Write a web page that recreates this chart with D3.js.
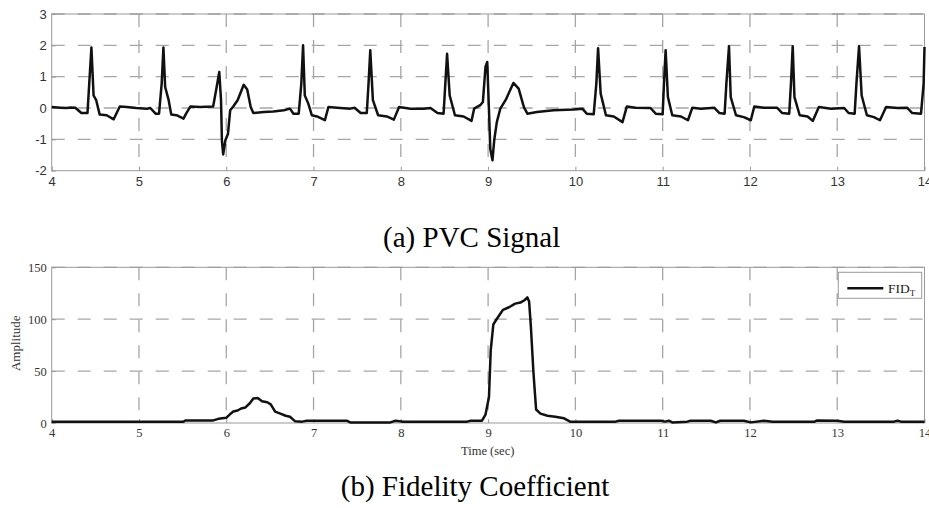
<!DOCTYPE html>
<html><head><meta charset="utf-8">
<script src="https://cdn.jsdelivr.net/npm/d3@7"></script>
<style>body{margin:0;background:#fff}svg{display:block}</style>
</head><body>
<svg id="c" width="929" height="508"></svg>
<script>
// ---------- data ----------
const ecgTime = [4.00,4.10,4.17,4.22,4.27,4.34,4.41,4.43,4.455,4.48,4.51,4.55,4.63,4.71,4.74,4.78,4.86,4.97,5.09,5.13,5.19,5.23,5.26,5.28,5.30,5.34,5.37,5.43,5.51,5.54,5.59,5.70,5.85,5.89,5.92,5.94,5.95,5.965,5.99,6.02,6.045,6.08,6.13,6.20,6.24,6.28,6.31,6.43,6.54,6.66,6.73,6.77,6.83,6.86,6.88,6.90,6.94,6.98,7.04,7.13,7.17,7.27,7.42,7.47,7.54,7.61,7.63,7.65,7.68,7.74,7.84,7.92,7.98,8.11,8.26,8.34,8.42,8.49,8.51,8.53,8.56,8.62,8.72,8.81,8.84,8.91,8.94,8.97,8.99,9.01,9.025,9.05,9.07,9.10,9.14,9.20,9.29,9.35,9.41,9.45,9.56,9.75,9.98,10.08,10.13,10.21,10.24,10.26,10.29,10.35,10.44,10.54,10.59,10.69,10.86,10.92,11.00,11.015,11.034,11.06,11.11,11.21,11.29,11.34,11.44,11.59,11.65,11.71,11.73,11.76,11.78,11.84,11.93,12.01,12.05,12.16,12.31,12.37,12.45,12.47,12.49,12.51,12.57,12.66,12.72,12.79,12.93,13.08,13.13,13.20,13.22,13.25,13.28,13.34,13.42,13.49,13.56,13.69,13.80,13.86,13.96,13.99,14.00];
const ecgValue = [0.03,0.01,0.00,0.02,0.01,-0.16,-0.16,0.78,1.93,0.40,0.25,-0.21,-0.23,-0.36,-0.18,0.05,0.03,0.00,-0.02,0.00,-0.18,-0.18,0.78,1.93,0.67,0.25,-0.21,-0.23,-0.34,-0.18,0.05,0.03,0.05,0.67,1.15,0.25,-1.03,-1.48,-1.03,-0.82,-0.07,0.05,0.25,0.74,0.59,0.03,-0.16,-0.13,-0.11,-0.07,-0.02,-0.18,-0.18,0.78,2.00,0.40,0.14,-0.23,-0.27,-0.39,0.03,0.01,-0.02,0.01,-0.16,-0.16,0.78,1.84,0.25,-0.23,-0.27,-0.37,0.03,-0.02,-0.02,0.00,-0.16,-0.18,0.78,1.73,0.40,-0.23,-0.27,-0.41,-0.02,0.09,0.19,1.31,1.47,-0.07,-1.30,-1.67,-1.03,-0.45,-0.02,0.25,0.80,0.62,0.03,-0.18,-0.13,-0.07,-0.05,-0.02,-0.18,-0.20,0.78,1.91,0.46,-0.23,-0.27,-0.45,0.05,0.01,0.00,-0.18,-0.20,0.78,1.84,0.35,-0.23,-0.27,-0.39,0.01,-0.02,0.01,-0.16,-0.18,0.78,1.97,0.35,-0.23,-0.29,-0.39,0.05,0.01,0.01,-0.16,-0.18,0.78,1.97,0.35,-0.23,-0.27,-0.41,0.03,-0.02,0.00,-0.16,-0.18,0.78,1.97,0.40,-0.23,-0.29,-0.39,0.03,0.00,0.01,-0.16,-0.18,0.78,1.95];
const fidTime = [4.00,5.51,5.53,5.85,5.91,6.00,6.05,6.08,6.13,6.17,6.22,6.27,6.31,6.36,6.41,6.47,6.51,6.56,6.62,6.68,6.73,6.79,6.87,6.92,7.38,7.42,7.88,7.94,8.03,8.76,8.80,8.93,8.97,9.01,9.03,9.06,9.09,9.13,9.17,9.24,9.31,9.37,9.42,9.45,9.47,9.49,9.52,9.55,9.60,9.68,9.77,9.87,9.94,10.46,10.50,10.98,11.03,11.07,11.11,11.28,11.32,11.55,11.61,11.66,11.93,12.01,12.16,12.26,12.74,12.77,13.00,13.08,13.65,13.69,13.73,14.00];
const fidValue = [1.3,1.3,2.5,2.5,4,5,9,11,12,14,15,19,23.5,24,21,20,18,11,9,7,6,1.6,1.3,2.2,2.2,0.6,0.6,2.2,1.3,1.3,2.2,2.2,8,25,70,95,99,104,109,111.5,115,116,118.5,121,117,93,48,13,9,7,6,4.5,1.3,1.3,2.2,2.2,1.3,2.2,0.6,1.3,2.2,2.2,0.6,2.2,2.2,0.6,2.2,1.3,1.3,2.5,2.2,1.3,1.3,2.2,1.3,1.3];
const xTicks = [4,5,6,7,8,9,10,11,12,13,14];
const topYTicks = [-2,-1,0,1,2,3];
const botYTicks = [0,50,100,150];
const captionA = "(a) PVC Signal";
const captionB = "(b) Fidelity Coefficient";
const xLabel = "Time (sec)";
const yLabel = "Amplitude";
const legendLabel = "FID";
const legendSub = "T";

// ---------- drawing ----------
const svg = d3.select("#c");
const L = 51.7, R = 924.5;
const gridColor = "#a6a6a6", boxColor = "#9a9a9a";
const fmt = d => String(d);

function panel(cfg){
  const x = d3.scaleLinear().domain([4,14]).range([L,R]);
  const y = d3.scaleLinear().domain(cfg.yDomain).range([cfg.bottom, cfg.top]);
  const g = svg.append("g");
  g.selectAll(".vg").data(xTicks.slice(1,-1)).join("line")
    .attr("x1", d=>x(d)).attr("x2", d=>x(d)).attr("y1", cfg.top).attr("y2", cfg.bottom)
    .attr("stroke", gridColor).attr("stroke-width", 1.3).attr("stroke-dasharray", "13,13");
  g.selectAll(".hg").data(cfg.yTicks.slice(1,-1)).join("line")
    .attr("x1", L).attr("x2", R).attr("y1", d=>y(d)).attr("y2", d=>y(d))
    .attr("stroke", gridColor).attr("stroke-width", 1.3).attr("stroke-dasharray", "13,13");
  g.append("line").attr("x1", L).attr("x2", R).attr("y1", cfg.top).attr("y2", cfg.top)
    .attr("stroke", gridColor).attr("stroke-width", 1.3).attr("stroke-dasharray", "13,13");
  g.append("rect").attr("x", L).attr("y", cfg.top).attr("width", R-L).attr("height", cfg.bottom-cfg.top)
    .attr("fill", "none").attr("stroke", boxColor).attr("stroke-width", 1);
  const ax = g.append("g").attr("transform", `translate(0,${cfg.bottom})`)
    .call(d3.axisBottom(x).tickValues(xTicks).tickFormat(fmt).tickSizeInner(-4).tickSizeOuter(0).tickPadding(8));
  const ay = g.append("g").attr("transform", `translate(${L},0)`)
    .call(d3.axisLeft(y).tickValues(cfg.yTicks).tickFormat(fmt).tickSizeInner(-4).tickSizeOuter(0).tickPadding(5));
  [ax, ay].forEach(a=>{
    a.select(".domain").remove();
    a.selectAll(".tick line").attr("stroke", boxColor);
    a.selectAll("text").attr("fill", cfg.textColor).attr("font-family", cfg.font).attr("font-size", cfg.fontSize);
  });
  ax.selectAll("text").attr("dy", cfg.xdy);
  const line = d3.line().x(d=>x(d[0])).y(d=>y(d[1]));
  g.append("path").datum(cfg.t.map((t,i)=>[t, cfg.v[i]]))
    .attr("d", line).attr("fill", "none").attr("stroke", "#111").attr("stroke-width", 2.5)
    .attr("stroke-linejoin", "round");
  return {x, y, g};
}

panel({top:14, bottom:170.7, yDomain:[-2,3], yTicks:topYTicks, t:ecgTime, v:ecgValue,
  font:"'Liberation Sans', Arial, sans-serif", fontSize:13, textColor:"#333", xdy:"0.55em"});
panel({top:267.3, bottom:423, yDomain:[0,150], yTicks:botYTicks, t:fidTime, v:fidValue,
  font:"'Liberation Serif', 'Times New Roman', serif", fontSize:12.5, textColor:"#333", xdy:"0.5em"});

svg.append("text").attr("x", 487.7).attr("y", 454.5).attr("text-anchor", "middle")
  .attr("font-family", "'Liberation Serif', serif").attr("font-size", 12.5).attr("fill", "#333").text(xLabel);
svg.append("text").attr("transform", "translate(20,343.3) rotate(-90)").attr("text-anchor", "middle")
  .attr("font-family", "'Liberation Serif', serif").attr("font-size", 13).attr("fill", "#333").text(yLabel);

const lg = svg.append("g");
lg.append("rect").attr("x", 838.3).attr("y", 272.3).attr("width", 83.4).attr("height", 26)
  .attr("fill", "#fff").attr("stroke", "#999").attr("stroke-width", 1);
lg.append("line").attr("x1", 847.3).attr("x2", 883.3).attr("y1", 288.3).attr("y2", 288.3)
  .attr("stroke", "#111").attr("stroke-width", 2.5);
const lt = lg.append("text").attr("x", 888).attr("y", 292.5)
  .attr("font-family", "'Liberation Serif', serif").attr("font-size", 13.5).attr("fill", "#222");
lt.append("tspan").text(legendLabel);
lt.append("tspan").attr("font-size", 9).attr("dy", 3).text(legendSub);

svg.append("text").attr("x", 471.7).attr("y", 246.7).attr("text-anchor", "middle")
  .attr("font-family", "'Liberation Serif', 'Times New Roman', serif").attr("font-size", 29).attr("fill", "#000").text(captionA);
svg.append("text").attr("x", 475).attr("y", 496).attr("text-anchor", "middle")
  .attr("font-family", "'Liberation Serif', 'Times New Roman', serif").attr("font-size", 29).attr("fill", "#000").text(captionB);
</script>
</body></html>
